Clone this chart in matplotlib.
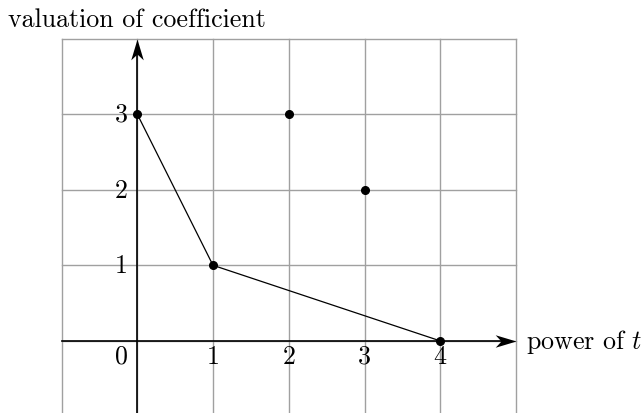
import matplotlib
matplotlib.use("Agg")
import matplotlib.pyplot as plt
from matplotlib.path import Path

plt.rcParams['font.family'] = 'cmr10'
plt.rcParams['mathtext.fontset'] = 'cm'
plt.rcParams['axes.unicode_minus'] = False

# points (power of t, valuation)
powers = [0, 1, 2, 3, 4]
valuations = [3, 1, 3, 2, 0]
# lower convex hull (Newton polygon)
hull_x = [0, 1, 4]
hull_y = [3, 1, 0]
x_ticks = [0, 1, 2, 3, 4]
y_ticks = [1, 2, 3]

fig = plt.figure(figsize=(6.43, 4.14), dpi=100)
W, H = 643, 414
x0px, x5px = 61.5, 516.0
ytop, ybot = 39.5, 417.5
ax = fig.add_axes([x0px / W, (H - ybot) / H, (x5px - x0px) / W, (ybot - ytop) / H])
ax.set_xlim(-1, 5)
ax.set_ylim(-1, 4)
ax.axis('off')

# grid
for gx in range(-1, 6):
    ax.plot([gx, gx], [-1, 4], color='#a0a0a0', lw=1.0, zorder=1, clip_on=False)
for gy in range(-1, 5):
    ax.plot([-1, 5], [gy, gy], color='#a0a0a0', lw=1.0, zorder=1, clip_on=False)

# stealth-like arrow heads, tip at the origin of the marker path
right_head = Path([(0, 0), (-1, 0.3), (-0.72, 0), (-1, -0.3), (0, 0)],
                  [Path.MOVETO, Path.LINETO, Path.LINETO, Path.LINETO, Path.CLOSEPOLY])
up_head = Path([(0, 0), (0.3, -1), (0, -0.72), (-0.3, -1), (0, 0)],
               [Path.MOVETO, Path.LINETO, Path.LINETO, Path.LINETO, Path.CLOSEPOLY])

ax.plot([-1, 4.9], [0, 0], color='black', lw=1.2, zorder=3, clip_on=False)
ax.plot([0, 0], [-1, 3.9], color='black', lw=1.2, zorder=3, clip_on=False)
ax.plot([5], [0], marker=right_head, ms=30, color='black', mew=0, zorder=3, clip_on=False)
ax.plot([0], [4], marker=up_head, ms=30, color='black', mew=0, zorder=3, clip_on=False)

ax.plot(hull_x, hull_y, color='black', lw=0.9, zorder=4)
ax.plot(powers, valuations, 'o', color='black', ms=5.5, zorder=5, clip_on=False)

fs = 18.7
for t in x_ticks:
    ax.text(t - 0.21 if t == 0 else t, -0.2, str(t), ha='center', va='center', fontsize=fs)
for t in y_ticks:
    ax.text(-0.21, t, str(t), ha='center', va='center', fontsize=fs)

ax.text(5.13, 0, 'power of $t$', ha='left', va='center', fontsize=fs)
fig.text(8 / W, 1 - 20 / H, 'valuation of coefficient', ha='left', va='center', fontsize=fs)

fig.savefig('out.png', dpi=100)
